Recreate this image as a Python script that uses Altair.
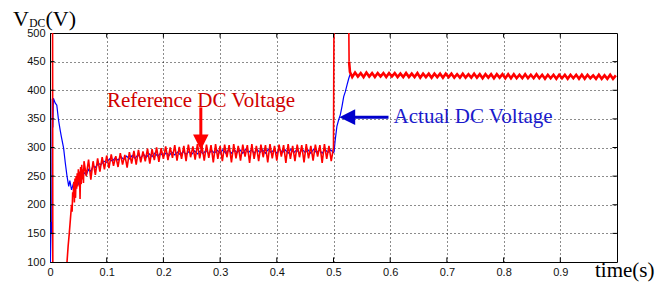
import altair as alt
import pandas as pd

# ---------------- data ----------------
RED_EARLY_T = [0.000, 0.0045, 0.0050, 0.028, 0.030, 0.032, 0.034, 0.036, 0.038, 0.039,
               0.040, 0.041, 0.042, 0.043, 0.044, 0.045, 0.046, 0.047, 0.048, 0.049,
               0.050, 0.051, 0.052, 0.053, 0.054, 0.055, 0.056, 0.057, 0.058, 0.059, 0.060]
RED_EARLY_V = [560, 560, 40, 40, 100, 128, 150, 175, 200, 188,
               222, 214, 240, 204, 246, 212, 250, 228, 255, 232,
               262, 240, 258, 210, 266, 236, 270, 244, 262, 238, 276]

RED_MID_START, RED_MID_STEP = 0.064, 0.004
RED_MID_V = [250, 279, 244, 276, 252, 281, 258, 283, 262, 286,
             264, 288, 268, 285, 266, 290, 270, 287, 265, 292,
             272, 294, 270, 296, 274, 293, 276, 298, 272, 297,
             278, 300, 275, 299, 280, 302, 278, 300, 282, 304,
             277, 301, 280, 303, 276, 305, 283, 302, 279, 306,
             281, 303, 277, 305, 282, 304, 274, 306, 280, 303,
             276, 305, 283, 304, 274, 306, 281, 303, 277, 305,
             284, 304, 273, 306, 280, 303, 276, 305, 283, 304,
             274, 306, 281, 303, 277, 305, 284, 304, 273, 306,
             280, 303, 276, 305, 283, 304, 274, 306, 281, 303,
             277, 305, 284, 304, 273, 306, 280, 303, 276, 300]

RED_JUMP_T = [0.5012, 0.526, 0.5275, 0.529]
RED_JUMP_V = [620, 620, 450, 432]

RED_LATE_START, RED_LATE_STEP = 0.533, 0.005
RED_LATE_V = [423, 431, 424, 430, 423, 431, 424, 430, 423, 430,
              424, 430, 423, 430, 424, 430, 423, 429, 423, 430,
              423, 429, 423, 430, 422, 429, 423, 429, 422, 429,
              423, 429, 422, 429, 423, 429, 422, 428, 422, 429,
              422, 428, 422, 429, 422, 428, 421, 428, 422, 428,
              421, 428, 422, 428, 421, 428, 421, 428, 421, 427,
              421, 428, 421, 427, 421, 428, 421, 427, 420, 427,
              421, 427, 420, 427, 421, 427, 420, 427, 421, 427,
              420, 427, 420, 427, 421, 426, 420, 427, 420, 426,
              420, 427, 420, 426]

BLUE_EARLY_T = [0.000, 0.002, 0.003, 0.004, 0.005, 0.006, 0.009, 0.012, 0.015, 0.018,
                0.020, 0.024, 0.027, 0.030, 0.033, 0.035, 0.038, 0.041, 0.044, 0.047,
                0.050, 0.053, 0.056, 0.060, 0.064, 0.068, 0.072, 0.076, 0.080, 0.085,
                0.090, 0.095]
BLUE_EARLY_V = [60, 170, 150, 385, 335, 386, 378, 374, 348, 330,
                319, 299, 273, 250, 232, 242, 226, 236, 228, 240,
                236, 250, 246, 256, 252, 262, 258, 268, 265, 272,
                270, 276]

BLUE_MID_START, BLUE_MID_STEP = 0.100, 0.005
BLUE_MID_V = [274, 280, 276, 282, 278, 284, 279, 285, 280, 286,
              281, 287, 282, 288, 283, 289, 284, 290, 285, 290,
              285, 291, 286, 292, 287, 292, 287, 293, 288, 293,
              288, 294, 289, 294, 289, 295, 289, 295, 290, 295,
              290, 296, 290, 296, 290, 296, 291, 296, 290, 297,
              291, 296, 290, 297, 291, 296, 290, 297, 291, 296,
              290, 297, 291, 296, 290, 297, 291, 296, 290, 297,
              291, 296, 290, 297, 291, 296, 290, 297, 291, 296, 291]

BLUE_LATE_T = [0.501, 0.503, 0.506, 0.509, 0.512, 0.515, 0.518, 0.521, 0.524, 0.527,
               0.529, 0.532]
BLUE_LATE_V = [292, 313, 337, 348, 357, 372, 389, 398, 410, 421,
               427, 427]

X_TICKS = [0, 0.1, 0.2, 0.3, 0.4, 0.5, 0.6, 0.7, 0.8, 0.9]
Y_TICKS = [100, 150, 200, 250, 300, 350, 400, 450, 500]

ANNOT_TEXT = ["Reference DC Voltage", "Actual DC Voltage"]
ANNOT_T = [0.1005, 0.606]
ANNOT_V = [371.6, 342.6]
ANNOT_COLOR = ["#d00000", "#1a1acc"]


def series(parts):
    rows = []
    for ts, vs in parts:
        for t, v in zip(ts, vs):
            rows.append({"t": t, "v": v, "i": len(rows)})
    return pd.DataFrame(rows)


def grid(start, step, vs):
    return [round(start + k * step, 5) for k in range(len(vs))]


red_df = series([
    (RED_EARLY_T, RED_EARLY_V),
    (grid(RED_MID_START, RED_MID_STEP, RED_MID_V), RED_MID_V),
    (RED_JUMP_T, RED_JUMP_V),
    (grid(RED_LATE_START, RED_LATE_STEP, RED_LATE_V), RED_LATE_V),
])
blue_df = series([
    (BLUE_EARLY_T, BLUE_EARLY_V),
    (grid(BLUE_MID_START, BLUE_MID_STEP, BLUE_MID_V), BLUE_MID_V),
    (BLUE_LATE_T, BLUE_LATE_V),
])

xs = alt.Scale(domain=[0, 1], nice=False, zero=False)
ys = alt.Scale(domain=[100, 500], nice=False, zero=False)
xax = alt.Axis(values=X_TICKS, format="~g", title=None, grid=True, ticks=False,
               domain=False, labelPadding=4, labelFlush=False)
yax = alt.Axis(values=Y_TICKS, title=None, grid=True, ticks=False, domain=False,
               labelPadding=5, labelFlush=False)

X = alt.X("t:Q", scale=xs, axis=xax)
Y = alt.Y("v:Q", scale=ys, axis=yax)

blue = alt.Chart(blue_df).mark_line(color="#0000ff", strokeWidth=1.2, clip=True).encode(
    x=X, y=Y, order="i:Q")
red_a = alt.Chart(red_df).transform_filter("datum.t <= 0.5276").mark_line(
    color="#ff0000", strokeWidth=1.6, clip=True).encode(x=X, y=Y, order="i:Q")
red_b = alt.Chart(red_df).transform_filter("datum.t >= 0.5274").mark_line(
    color="#ff0000", strokeWidth=2.6, clip=True).encode(x=X, y=Y, order="i:Q")

# inward tick marks (MATLAB style box ticks)
tick_rows = []
for t in X_TICKS[1:]:
    tick_rows.append({"t": t, "t2": t, "v": 100, "v2": 108})
    tick_rows.append({"t": t, "t2": t, "v": 500, "v2": 492})
for v in Y_TICKS[1:-1]:
    tick_rows.append({"t": 0, "t2": 0.008, "v": v, "v2": v})
    tick_rows.append({"t": 1, "t2": 0.992, "v": v, "v2": v})
ticks = alt.Chart(pd.DataFrame(tick_rows)).mark_rule(color="black", strokeWidth=1).encode(
    x=X, x2="t2:Q", y=Y, y2="v2:Q")

# annotation arrows
shaft_df = pd.DataFrame([
    {"t": 0.266, "t2": 0.266, "v": 370, "v2": 312, "c": "#ff0000"},
    {"t": 0.597, "t2": 0.52, "v": 353, "v2": 353, "c": "#0000cc"},
])
shafts = alt.Chart(shaft_df).mark_rule(strokeWidth=3).encode(
    x=X, x2="t2:Q", y=Y, y2="v2:Q", color=alt.Color("c:N", scale=None))

red_head = alt.Chart(pd.DataFrame([{"t": 0.266, "v": 309}])).mark_point(
    shape="M-1,-1L1,-1L0,1Z", size=240, filled=True, opacity=1, color="#ff0000"
).encode(x=X, y=Y)
blue_head = alt.Chart(pd.DataFrame([{"t": 0.5243, "v": 353}])).mark_point(
    shape="M1,-1L1,1L-1,0Z", size=250, filled=True, opacity=1, color="#0000cc"
).encode(x=X, y=Y)

annot_df = pd.DataFrame({"txt": ANNOT_TEXT, "t": ANNOT_T, "v": ANNOT_V, "c": ANNOT_COLOR})
annots = alt.Chart(annot_df).mark_text(
    font="Liberation Serif", fontSize=21, align="left", baseline="alphabetic"
).encode(x=X, y=Y, text="txt:N", color=alt.Color("c:N", scale=None))

# axis titles
lab_v = alt.Chart(pd.DataFrame({"s": ["V"]})).mark_text(
    font="Liberation Serif", fontSize=22, align="left", baseline="alphabetic", color="black"
).encode(text="s:N", x=alt.value(-37), y=alt.value(-7.5))
lab_dc = alt.Chart(pd.DataFrame({"s": ["DC"]})).mark_text(
    font="Liberation Serif", fontSize=11.5, align="left", baseline="alphabetic", color="black"
).encode(text="s:N", x=alt.value(-20.8), y=alt.value(-6.5))
lab_vp = alt.Chart(pd.DataFrame({"s": ["(V)"]})).mark_text(
    font="Liberation Serif", fontSize=22, align="left", baseline="alphabetic", color="black"
).encode(text="s:N", x=alt.value(-4.5), y=alt.value(-7.5))
lab_t = alt.Chart(pd.DataFrame({"s": ["time(s)"]})).mark_text(
    font="Liberation Serif", fontSize=21, align="left", baseline="alphabetic", color="black"
).encode(text="s:N", x=alt.value(545), y=alt.value(243.5))

chart = alt.layer(
    blue, red_a, red_b, ticks, shafts, red_head, blue_head, annots,
    lab_v, lab_dc, lab_vp, lab_t
).properties(
    width=567, height=229,
    autosize=alt.AutoSizeParams(type="none"),
    padding={"left": 42, "top": 25, "right": 40, "bottom": 22},
    background="white",
).configure_view(
    stroke="black", strokeWidth=1
).configure_axis(
    gridColor="#000000", gridDash=[1, 3], gridOpacity=0.9, gridWidth=1,
    labelFont="Liberation Sans", labelFontSize=11, labelColor="#111111"
)

chart.save("out.html", embed_options={"renderer": "svg", "actions": False})
